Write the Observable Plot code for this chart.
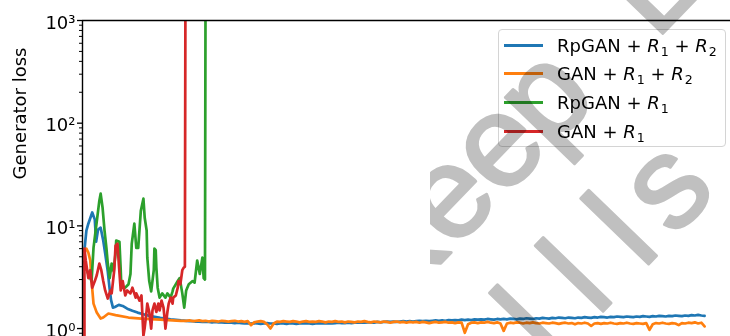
<!DOCTYPE html>
<html>
<head>
<meta charset="utf-8">
<script src="https://cdn.jsdelivr.net/npm/d3@7"></script>
<script src="https://cdn.jsdelivr.net/npm/@observablehq/plot@0.6"></script>
<style>
  html, body { margin: 0; padding: 0; background: #fff; overflow: hidden; }
  #wrap { position: relative; width: 730px; height: 336px; overflow: hidden; }
  #chart svg { display: block; }
  .legend {
    position: absolute; left: 498px; top: 29px; width: 228px; height: 118px;
    box-sizing: border-box; border: 1px solid #d4d4d4; border-radius: 4px;
    background: rgba(255,255,255,0.8);
    font-family: "DejaVu Sans", sans-serif; font-size: 18px; color: #000;
  }
  .legend .row { position: absolute; left: 0; height: 29px; display: flex; align-items: center; white-space: nowrap; }
  .legend .swatch { width: 39px; height: 3px; margin-left: 5px; margin-right: 14px; }
  .legend i { font-style: italic; }
  .legend sub { font-size: 70%; position: relative; top: 0.28em; vertical-align: baseline; line-height: 0; margin-left: 1px; }
  #wm { position: absolute; left: 430px; top: 0; width: 300px; height: 336px; overflow: hidden; mix-blend-mode: multiply; pointer-events: none; }
</style>
</head>
<body>
<div id="wrap">
  <div id="chart"></div>
  <div class="legend" id="legend"></div>
  <div id="wm">
    <svg width="300" height="336">
      <g transform="translate(-37.2,313) rotate(-46)" font-family="Liberation Sans, Arial, sans-serif" font-size="130"
         fill="#c0c0c0" stroke="#c0c0c0" stroke-width="3" stroke-linejoin="round">
        <text y="0" x="-1 86 157 225 297 378">Keep Learning</text>
        <text y="150" x="72.8 138.5 204.2 248.7">llls</text>
      </g>
    </svg>
  </div>
</div>
<script>
// Series names and colours
const seriesNames = ["RpGAN + R1 + R2", "GAN + R1 + R2", "RpGAN + R1", "GAN + R1"];
const seriesColors = ["#1f77b4", "#ff7f0e", "#2ca02c", "#d62728"];

// Y axis ticks (log scale)
const yTicks = [1, 10, 100, 1000];
const yTickLabels = ["10\u2070", "10\u00b9", "10\u00b2", "10\u00b3"];
const yMinorTicks = [0.9, 2, 3, 4, 5, 6, 7, 8, 9, 20, 30, 40, 50, 60, 70, 80, 90, 200, 300, 400, 500, 600, 700, 800, 900];

// Early training (irregular steps)
const blueHeadX = [0.3, 0.6, 0.9, 1.5, 1.9, 2.1, 2.4, 2.8, 3.2, 3.5, 3.9, 4.2, 4.4, 4.7, 5.0, 5.6, 6.2, 6.9, 7.7, 8.5, 9.4, 10.5, 12, 13.6, 15.2];
const blueHeadY = [5.8, 9.0, 10.5, 13.5, 11.5, 7.0, 9.2, 9.6, 7.2, 5.4, 3.6, 2.4, 1.9, 1.6, 1.62, 1.7, 1.66, 1.56, 1.49, 1.43, 1.38, 1.32, 1.27, 1.23, 1.2];

const orangeHeadX = [0.3, 0.6, 0.9, 1.2, 1.4, 1.7, 2.2, 2.8, 3.2, 4.0, 5.1, 7.1, 9.1, 12, 15.2];
const orangeHeadY = [5.6, 6.0, 5.5, 4.6, 2.9, 1.75, 1.43, 1.25, 1.28, 1.40, 1.35, 1.28, 1.25, 1.22, 1.19];

const greenX = [0.3, 0.5, 0.9, 1.4, 1.7, 2.2, 2.6, 2.8, 3.1, 3.4, 3.7, 3.9, 4.2, 4.5, 4.8, 5.1, 5.2, 5.7, 5.9, 6.0,
  6.6, 7.1, 7.4, 7.6, 8.0, 8.3, 8.6, 9.0, 9.4, 9.6, 9.9, 10.0, 10.3, 10.6, 11.0, 11.1, 11.3, 11.4, 11.6, 11.9,
  12.3, 12.8, 13.1, 13.6, 13.9, 14.0, 14.7, 15.0, 15.4, 15.7, 16.0, 16.4, 17.0, 17.3, 17.7, 18.1, 18.5, 18.7, 18.9, 19.0];
const greenY = [4.5, 4.0, 3.4, 2.9, 6.1, 11, 17.6, 20.6, 15, 9, 6, 4.3, 3.1, 4.3, 3.6, 5.4, 7.2, 7.0, 3.7, 2.5,
  2.5, 2.7, 3.4, 6.7, 10.5, 6.1, 6.1, 14, 18.4, 12, 9, 4.9, 2.9, 2.3, 3.7, 6, 5.8, 3.9, 2.5, 2.0,
  2.2, 2.0, 2.2, 2.0, 2.3, 2.45, 2.9, 3.1, 2.2, 1.6, 2.35, 2.7, 2.9, 2.8, 4.6, 3.4, 4.9, 3.1, 3.0, 5000];

const redX = [0.3, 0.3, 0.5, 0.9, 1.2, 1.5, 1.9, 2.2, 2.6, 2.9, 3.2, 3.5, 3.9, 4.3, 4.5, 4.9, 5.1, 5.4, 5.6, 5.9,
  6.2, 6.6, 6.9, 7.4, 7.7, 8.2, 8.3, 8.8, 9.1, 9.4, 9.6, 9.9, 10.0, 10.3, 10.6, 10.8, 11.1, 11.4, 11.7, 11.9,
  12.2, 12.5, 12.7, 12.8, 13.1, 13.3, 13.6, 13.9, 14.0, 14.4, 14.7, 14.8, 15.1, 15.4, 15.6, 15.8, 15.9];
const redY = [0.5, 6.0, 4.6, 3.1, 3.7, 2.5, 2.9, 3.3, 4.3, 3.7, 2.9, 2.35, 1.96, 2.35, 2.2, 3.7, 6.4, 6.7, 4.3, 2.35,
  2.9, 2.1, 2.35, 2.2, 2.5, 2.0, 2.2, 1.87, 2.1, 0.85, 1.02, 1.5, 1.75, 1.45, 1.0, 1.5, 1.75, 1.45, 1.75, 1.5,
  1.87, 1.6, 1.2, 1.0, 1.45, 1.75, 2.0, 1.75, 2.0, 2.1, 2.5, 2.9, 2.7, 3.7, 3.9, 4.0, 5000];

// Later training: regular steps from tailStart
const tailStart = 16, tailStep = 0.5;
const blueTail = [
  1.19, 1.18, 1.18, 1.17, 1.17, 1.16, 1.17, 1.16, 1.15, 1.16,
  1.15, 1.15, 1.14, 1.15, 1.14, 1.13, 1.14, 1.13, 1.12, 1.13,
  1.12, 1.13, 1.12, 1.11, 1.12, 1.13, 1.12, 1.12, 1.11, 1.12,
  1.12, 1.11, 1.13, 1.12, 1.11, 1.12, 1.12, 1.13, 1.12, 1.11,
  1.12, 1.13, 1.12, 1.13, 1.12, 1.12, 1.13, 1.14, 1.13, 1.13,
  1.14, 1.13, 1.14, 1.15, 1.14, 1.14, 1.15, 1.15, 1.14, 1.16,
  1.15, 1.16, 1.17, 1.16, 1.17, 1.16, 1.17, 1.18, 1.17, 1.18,
  1.17, 1.18, 1.19, 1.18, 1.19, 1.18, 1.19, 1.20, 1.19, 1.20,
  1.19, 1.21, 1.20, 1.21, 1.20, 1.22, 1.21, 1.22, 1.21, 1.23,
  1.22, 1.23, 1.22, 1.24, 1.23, 1.22, 1.24, 1.23, 1.24, 1.23,
  1.25, 1.24, 1.23, 1.25, 1.24, 1.26, 1.25, 1.24, 1.26, 1.25,
  1.27, 1.26, 1.25, 1.27, 1.26, 1.28, 1.27, 1.26, 1.28, 1.27,
  1.26, 1.28, 1.27, 1.29, 1.28, 1.27, 1.29, 1.28, 1.30, 1.29,
  1.28, 1.30, 1.29, 1.31, 1.30, 1.29, 1.31, 1.30, 1.29, 1.31,
  1.30, 1.32, 1.31, 1.30, 1.32, 1.31, 1.33, 1.32, 1.31, 1.33,
  1.32, 1.34, 1.33, 1.32, 1.34, 1.33, 1.35, 1.34, 1.36, 1.34,
  1.33
];
const orangeTail = [
  1.19, 1.20, 1.18, 1.19, 1.20, 1.18, 1.19, 1.17, 1.19, 1.18,
  1.17, 1.19, 1.18, 1.17, 1.18, 1.19, 1.17, 1.18, 1.16, 1.18,
  1.08, 1.15, 1.17, 1.18, 1.16, 1.10, 1.00, 1.12, 1.17, 1.16,
  1.18, 1.17, 1.16, 1.18, 1.17, 1.15, 1.17, 1.18, 1.16, 1.17,
  1.16, 1.18, 1.17, 1.15, 1.17, 1.16, 1.18, 1.16, 1.17, 1.15,
  1.17, 1.16, 1.15, 1.17, 1.16, 1.18, 1.16, 1.15, 1.17, 1.16,
  1.15, 1.17, 1.16, 1.14, 1.16, 1.17, 1.15, 1.16, 1.14, 1.16,
  1.15, 1.16, 1.14, 1.16, 1.15, 1.13, 1.15, 1.16, 1.14, 1.15,
  1.16, 1.14, 1.15, 1.13, 1.15, 1.14, 0.91, 1.10, 1.14, 1.15,
  1.13, 1.15, 1.14, 1.16, 1.14, 1.13, 1.15, 1.12, 0.95, 1.12,
  1.14, 1.13, 1.15, 1.14, 1.12, 1.14, 1.13, 1.15, 1.13, 1.12,
  1.14, 1.13, 1.12, 1.14, 1.13, 1.11, 1.13, 1.14, 1.12, 1.13,
  1.10, 1.13, 1.12, 1.14, 1.12, 1.06, 1.12, 1.13, 1.11, 1.13,
  1.12, 1.14, 1.12, 1.11, 1.13, 1.12, 1.14, 1.12, 1.11, 1.13,
  1.12, 1.11, 1.13, 0.97, 1.10, 1.13, 1.12, 1.14, 1.12, 1.11,
  1.13, 1.12, 1.08, 1.13, 1.12, 1.14, 1.13, 1.15, 1.12, 1.14,
  1.05
];

// Assemble a long table: one row per (series, step)
const rows = [];
function pushXY(name, xs, ys) { xs.forEach((x, i) => rows.push({series: name, step: x, loss: ys[i]})); }
function pushTail(name, ys) { ys.forEach((v, i) => rows.push({series: name, step: tailStart + i * tailStep, loss: v})); }
pushXY(seriesNames[0], blueHeadX, blueHeadY); pushTail(seriesNames[0], blueTail);
pushXY(seriesNames[1], orangeHeadX, orangeHeadY); pushTail(seriesNames[1], orangeTail);
pushXY(seriesNames[2], greenX, greenY);
pushXY(seriesNames[3], redX, redY);

const chart = Plot.plot({
  width: 730, height: 340,
  marginLeft: 82, marginRight: 0, marginTop: 20, marginBottom: 2,
  style: {fontFamily: "DejaVu Sans, sans-serif", fontSize: "18px", color: "black", background: "white"},
  x: {domain: [0, 100], axis: null},
  y: {type: "log", domain: [0.8, 1000], axis: null},
  color: {domain: seriesNames, range: seriesColors},
  marks: [
    Plot.line(rows, {x: "step", y: "loss", z: "series", stroke: "series", strokeWidth: 2.7, strokeLinejoin: "round", clip: true}),
    Plot.ruleX([0], {stroke: "black", strokeWidth: 1.4}),
    Plot.ruleY([1000], {stroke: "black", strokeWidth: 1.4}),
    Plot.axisY({ticks: yTicks, tickSize: 5, tickFormat: () => "", label: null, strokeWidth: 1.3}),
    Plot.axisY({ticks: yMinorTicks, tickSize: 3, tickFormat: () => "", label: null, strokeWidth: 1}),
    Plot.text(yTicks, {y: d => d, frameAnchor: "left", text: (d, i) => yTickLabels[i], textAnchor: "end", dx: -7, dy: 2.5, fontSize: 18, fill: "black"}),
    Plot.text(["Generator loss"], {frameAnchor: "left", text: d => d, rotate: -90, dx: -62.5, fontSize: 18, fill: "black"})
  ]
});
document.getElementById("chart").appendChild(chart);

// Legend
const legend = document.getElementById("legend");
const fmt = s => s.replace(/R(\d)/g, "<i>R</i><sub>$1</sub>");
seriesNames.forEach((name, i) => {
  const row = document.createElement("div");
  row.className = "row";
  row.style.top = Math.round(0.5 + i * 28.8) + "px";
  row.innerHTML = `<span class="swatch" style="background:${seriesColors[i]}"></span><span>${fmt(name)}</span>`;
  legend.appendChild(row);
});
</script>
</body>
</html>
